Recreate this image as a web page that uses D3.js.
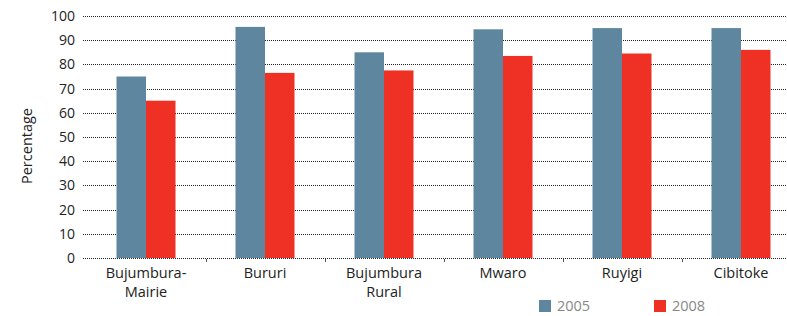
<!DOCTYPE html>
<html>
<head>
<meta charset="utf-8">
<script src="https://cdn.jsdelivr.net/npm/d3@7"></script>
<style>
  body { margin: 0; background: #fff; }
  svg text { font-family: "Open Sans", "Noto Sans", sans-serif; }
</style>
</head>
<body>
<svg id="chart" width="787" height="316"></svg>
<script>
const provinces = ['Bujumbura-\nMairie', 'Bururi', 'Bujumbura\nRural', 'Mwaro', 'Ruyigi', 'Cibitoke'];
const years = ['2005', '2008'];
const values2005 = [75, 95.5, 85, 94.5, 95, 95];
const values2008 = [65, 76.5, 77.5, 83.5, 84.5, 86];
const yTicks = [0, 10, 20, 30, 40, 50, 60, 70, 80, 90, 100];
const colors = ['#5e869f', '#ee3124'];

const svg = d3.select("#chart");

// scales
const x = d3.scaleBand().domain(provinces).range([86.5, 800.5]).padding(0);
const y = d3.scaleLinear().domain([0, 100]).range([258, 16]);
const barW = 29.5;

// dotted gridlines
svg.append("g").selectAll("line")
  .data(yTicks)
  .join("line")
  .attr("x1", 83).attr("x2", 787)
  .attr("y1", d => Math.round(y(d)) + 0.5)
  .attr("y2", d => Math.round(y(d)) + 0.5)
  .attr("stroke", "#222")
  .attr("stroke-width", 1)
  .attr("stroke-dasharray", "1,1");

// y tick labels
svg.append("g").selectAll("text")
  .data(yTicks)
  .join("text")
  .attr("x", 75)
  .attr("y", d => y(d))
  .attr("dy", "0.35em")
  .attr("text-anchor", "end")
  .attr("font-size", 14)
  .attr("fill", "#222")
  .text(d => d);

// y axis title
svg.append("text")
  .attr("transform", "translate(32,146) rotate(-90)")
  .attr("text-anchor", "middle")
  .attr("font-size", 14.5)
  .attr("fill", "#222")
  .text("Percentage");

// small tick marks between groups
svg.append("g").selectAll("line")
  .data(provinces.slice(1))
  .join("line")
  .attr("x1", d => Math.round(x(d)) + 0.5)
  .attr("x2", d => Math.round(x(d)) + 0.5)
  .attr("y1", 259).attr("y2", 262)
  .attr("stroke", "#555");

// bars
const seriesData = [values2005, values2008];
seriesData.forEach((vals, si) => {
  svg.append("g").selectAll("rect")
    .data(vals)
    .join("rect")
    .attr("x", (d, i) => x(provinces[i]) + x.bandwidth() / 2 - barW + si * barW)
    .attr("width", barW)
    .attr("y", d => y(d))
    .attr("height", d => y(0) - y(d))
    .attr("fill", colors[si]);
});

// category labels
const lbl = svg.append("g").selectAll("text")
  .data(provinces)
  .join("text")
  .attr("x", d => x(d) + x.bandwidth() / 2)
  .attr("y", 278)
  .attr("text-anchor", "middle")
  .attr("font-size", 14.5)
  .attr("fill", "#222");
lbl.each(function (d) {
  const parts = d.split("\n");
  d3.select(this).selectAll("tspan")
    .data(parts)
    .join("tspan")
    .attr("x", x(d) + x.bandwidth() / 2)
    .attr("dy", (p, i) => i === 0 ? 0 : 19)
    .text(p => p);
});

// legend
const legendX = [539, 654];
years.forEach((yr, i) => {
  svg.append("rect")
    .attr("x", legendX[i]).attr("y", 300)
    .attr("width", 12).attr("height", 12)
    .attr("fill", colors[i]);
  svg.append("text")
    .attr("x", legendX[i] + 18).attr("y", 311)
    .attr("font-size", 14.5)
    .attr("fill", "#888")
    .text(yr);
});
</script>
</body>
</html>
